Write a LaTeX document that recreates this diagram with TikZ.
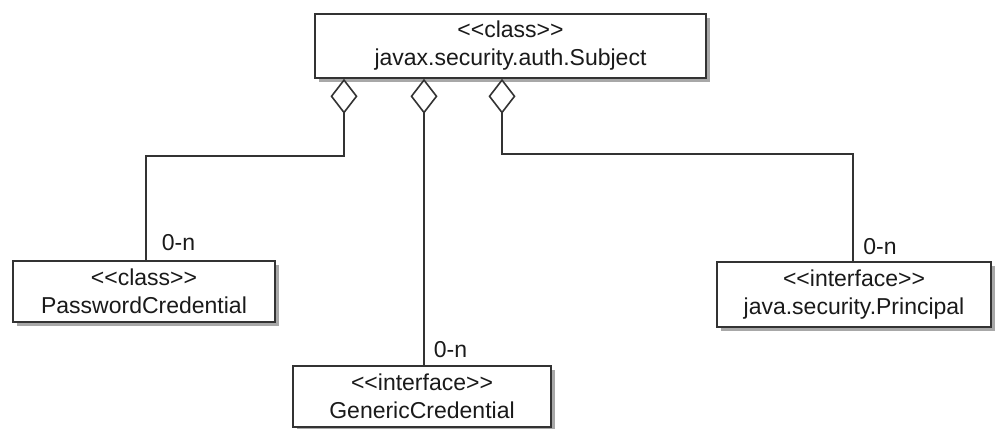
\documentclass[tikz,border=0pt]{standalone}
\usepackage{fontspec}
\newfontfamily\umlfont{Liberation Sans}
\usetikzlibrary{arrows.meta,shadows}
\definecolor{edge}{HTML}{333333}
\definecolor{shade}{HTML}{A8A8A8}
\definecolor{txt}{HTML}{1A1A1A}
\begin{document}
\begin{tikzpicture}[x=1pt,y=-1pt,
  umlbox/.style={draw=edge,line width=1.6pt,fill=white,align=center,inner sep=0pt,
    text=txt,font=\umlfont\fontsize{23}{28}\selectfont,
    drop shadow={shadow xshift=4pt,shadow yshift=-4pt,fill=shade,opacity=1}},
  agg/.style={draw=edge,line width=1.6pt,{Diamond[open,length=35pt,width=27pt,fill=white]}-},
  lbl/.style={text=txt,font=\umlfont\fontsize{23}{28}\selectfont,inner sep=0pt}]
\useasboundingbox[fill=white] (0,0) rectangle (995,428);
\node[umlbox,minimum width=391pt,minimum height=64pt] (subj) at (510.5,46) {<<class>>\\javax.security.auth.Subject};
\node[umlbox,minimum width=262pt,minimum height=61pt] (pass) at (144,291.5) {<<class>>\\PasswordCredential};
\node[umlbox,minimum width=258pt,minimum height=61pt] (gen) at (422,396.5) {<<interface>>\\GenericCredential};
\node[umlbox,minimum width=274pt,minimum height=65pt] (prin) at (854,294.5) {<<interface>>\\java.security.Principal};
\coordinate (a1) at (344,156);
\coordinate (p1) at (146,0);
\coordinate (p2) at (424,0);
\coordinate (a3) at (502,154);
\coordinate (p3) at (853,0);
\draw[agg] (a1 |- subj.south) -- (a1) -| (p1 |- pass.north);
\draw[agg] (p2 |- subj.south) -- (p2 |- gen.north);
\draw[agg] (a3 |- subj.south) -- (a3) -| (p3 |- prin.north);
\node[lbl] (l1) at (178.5,243) {0-n};
\node[lbl] (l2) at (450.5,350) {0-n};
\node[lbl] (l3) at (880,247) {0-n};
\end{tikzpicture}
\end{document}
